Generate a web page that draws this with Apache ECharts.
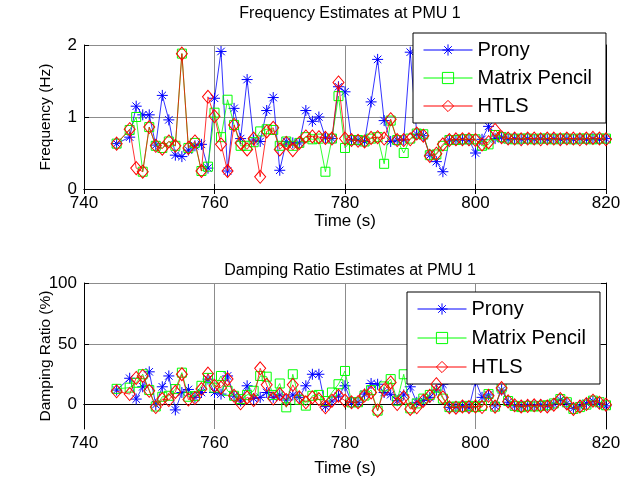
<!DOCTYPE html>
<html><head><meta charset="utf-8">
<script src="https://cdn.jsdelivr.net/npm/echarts@6/dist/echarts.min.js"></script>
<style>html,body{margin:0;padding:0;background:#fff}#c{width:624px;height:484px}</style>
</head><body><div id="c"></div>
<script>
const time = [745,747,748,749,750,751,752,753,754,755,756,757,758,759,760,761,762,763,764,765,766,767,768,769,770,771,772,773,774,775,776,777,778,779,780,781,782,783,784,785,786,787,788,789,790,791,792,793,794,795,796,797,798,799,800,801,802,803,804,805,806,807,808,809,810,811,812,813,814,815,816,817,818,819,820];

const freqProny = [0.63,0.72,1.15,1.03,1.03,0.61,1.30,0.96,0.47,0.45,0.54,0.60,0.62,0.29,1.26,1.91,0.25,1.12,0.70,1.52,0.68,0.66,1.09,1.27,0.26,0.66,0.64,0.64,1.09,0.94,1.00,0.71,0.70,1.42,1.35,0.68,0.68,0.66,1.21,1.80,0.95,0.66,0.68,0.68,1.90,0.76,0.74,0.47,0.38,0.24,0.68,0.68,0.69,0.68,0.50,0.69,0.87,0.70,0.72,0.69,0.70,0.69,0.70,0.69,0.70,0.69,0.70,0.69,0.70,0.69,0.70,0.69,0.70,0.69,0.70];
const freqMP    = [0.63,0.82,1.00,0.24,0.86,0.60,0.57,0.66,0.60,1.88,0.57,0.64,0.25,0.31,1.06,0.72,1.24,0.89,0.60,0.60,0.65,0.80,0.83,0.82,0.60,0.66,0.60,0.64,0.72,0.69,0.70,0.24,0.70,1.29,0.57,0.68,0.68,0.66,0.70,0.72,0.35,0.95,0.68,0.50,0.70,0.77,0.76,0.47,0.48,0.60,0.68,0.68,0.69,0.69,0.69,0.60,0.62,0.75,0.72,0.70,0.69,0.70,0.70,0.69,0.70,0.70,0.69,0.70,0.70,0.69,0.70,0.70,0.69,0.70,0.70];
const freqHTLS  = [0.63,0.83,0.29,0.24,0.86,0.60,0.56,0.66,0.60,1.88,0.57,0.66,0.25,1.28,1.01,0.62,0.25,0.89,0.64,0.55,0.70,0.17,0.80,0.85,0.55,0.64,0.54,0.64,0.73,0.73,0.72,0.71,0.70,1.48,0.70,0.68,0.67,0.66,0.71,0.72,0.70,0.97,0.68,0.68,0.69,0.77,0.74,0.46,0.49,0.62,0.68,0.69,0.69,0.69,0.68,0.62,0.65,0.82,0.72,0.70,0.70,0.69,0.70,0.70,0.69,0.70,0.70,0.69,0.70,0.70,0.69,0.70,0.71,0.70,0.69];

const dampProny = [12,21.7,4.6,14.7,27,0,14.7,23.6,-4.3,10,12.5,6,10,21,10,8.7,23.6,7,3,15.5,5,6,10,6,8,3.8,8,6,15.5,25,25,-1.6,3,7,15.5,1.9,2,8.7,17.4,16.8,10,8.2,3.3,8,14.7,1.9,3.5,6,12,16.8,-2.2,-2,-1,-2.5,19.6,6,8,-1,12,2,-1,-1.5,-0.5,-1,0,-1,0.5,4,1,-3,-1,1,3,1,-1];
const dampMP    = [13,14,18,25,12,-1.5,6.5,7.3,12.8,26.3,6.5,7,15.5,22,14,23.6,11.4,7.3,4.6,8,11.4,23.6,23,8,17.4,-2.2,25,4,-0.8,7.3,8,3,10,16.8,27.7,1.9,2,7.5,12,-4.9,15,21,3.3,25,-3,1,5,8,14,5,-2,-1.5,-2,-1,-2,-1,8.7,-1.6,14,3,-1,-2,-1,-1.5,-1,-0.5,1,4.6,2,-3.5,-2,0,3.3,2,-0.5];
const dampHTLS  = [11,8.7,22,23.6,11.4,-2,4.6,3.8,10.5,25,4.2,5.4,12.8,25.5,15.5,14,21,7.3,1.1,6,3.8,29.9,16.3,5,8.7,3.8,16.3,6,1.9,6,4.6,-2.2,3.3,7.3,3.3,1.9,2,7.5,10,-4.9,12,18.3,0.5,6,-3.5,-2.2,3.3,7.3,16.8,6,-2.2,-2.5,-1.5,-2,-1.5,-2,7.3,-1.6,13.6,2.7,-0.5,-1.5,-1,-0.5,-1,-1.5,0,4.6,1,-3.5,-1.5,0.5,3.3,1.5,0];

const names = ['Prony','Matrix Pencil','HTLS'];
const xTicks = [740,760,780,800,820];
const freqTicks = [0,1,2];
const dampTicks = [0,50,100];

const FONT = 'Liberation Sans, Arial, sans-serif';
const star = 'path://M5,0L5,10M0,5L10,5M1.6,1.6L8.4,8.4M1.6,8.4L8.4,1.6';
const styles = [
  {color:'#0000ff', symbol: star, size: 11},
  {color:'#00ff00', symbol: 'rect', size: 9},
  {color:'#ff0000', symbol: 'diamond', size: [11,13]}
];

function mk(name, vals, idx, gridIdx) {
  const s = styles[idx];
  return {
    name: name, type: 'line', xAxisIndex: gridIdx*2, yAxisIndex: gridIdx*2,
    data: time.map((t,i)=>[t, vals[i]]),
    symbol: s.symbol, symbolSize: s.size, showAllSymbol: true,
    lineStyle: {color: s.color, width: 0.8},
    itemStyle: {color: 'rgba(0,0,0,0)', borderColor: s.color, borderWidth: 1},
    emphasis: {disabled: true}, z: 2 + idx
  };
}

const axisLineStyle = {show: true, lineStyle: {color: '#000', width: 1}};
function xMain(grid, gap) {
  return {type:'value', gridIndex: grid, min: 740, max: 820, interval: 20, position:'bottom',
    axisLine: axisLineStyle, axisTick: {show:true, inside:true, length:5, lineStyle:{color:'#000'}},
    axisLabel: {fontSize: 17, color:'#000', fontFamily: FONT, margin: 6},
    splitLine: {show:true, lineStyle:{color:'#8c8c8c', width:1}},
    name: 'Time (s)', nameLocation:'middle', nameGap: gap, nameMoveOverlap: false,
    nameTextStyle: {fontSize: 17, color:'#000', fontFamily: FONT}};
}
function xMirror(grid) {
  return {type:'value', gridIndex: grid, min: 740, max: 820, interval: 20, position:'top',
    axisLine: axisLineStyle, axisTick: {show:true, inside:true, length:5, lineStyle:{color:'#000'}},
    axisLabel: {show:false}, splitLine: {show:false}};
}
function legendAt(left, top, gap) {
  return {data: names, orient: 'vertical', left: left, top: top, itemWidth: 49, itemHeight: 14, itemGap: gap,
     padding: [7, 14, 7, 10], backgroundColor: '#fff', borderColor: '#000', borderWidth: 1, borderRadius: 0,
     lineStyle: {width: 1}, itemStyle: {borderWidth: 1},
     textStyle: {fontSize: 20, color:'#000', fontFamily: FONT}, selectedMode: false};
}

const option = {
  animation: false,
  backgroundColor: '#fff',
  title: [
    {text: 'Frequency Estimates at PMU 1', left: 345, top: 1, textAlign: 'center',
     textStyle: {fontSize: 16, fontWeight: 'normal', color: '#000', fontFamily: FONT}},
    {text: 'Damping Ratio Estimates at PMU 1', left: 345, top: 258, textAlign: 'center',
     textStyle: {fontSize: 16, fontWeight: 'normal', color: '#000', fontFamily: FONT}}
  ],
  legend: [legendAt(413, 33, 8), legendAt(407, 292, 9)],
  grid: [
    {left: 84, top: 45, width: 522, height: 144},
    {left: 84, top: 283, width: 522, height: 146}
  ],
  xAxis: [xMain(0, 24), xMirror(0), xMain(1, 31), xMirror(1)],
  yAxis: [
    {type:'value', gridIndex:0, min:0, max:2, interval:1, position:'left',
     axisLine: axisLineStyle, axisTick:{show:true, inside:true, length:5, lineStyle:{color:'#000'}},
     axisLabel:{fontSize:17, color:'#000', fontFamily: FONT, margin: 7},
     splitLine:{show:true, lineStyle:{color:'#8c8c8c', width:1}},
     name:'Frequency (Hz)', nameLocation:'middle', nameGap: 30, nameMoveOverlap: false,
     nameTextStyle:{fontSize:15.5, color:'#000', fontFamily: FONT}},
    {type:'value', gridIndex:0, min:0, max:2, interval:1, position:'right',
     axisLine: axisLineStyle, axisTick:{show:true, inside:true, length:5, lineStyle:{color:'#000'}},
     axisLabel:{show:false}, splitLine:{show:false}},
    {type:'value', gridIndex:1, min:-20, max:100, position:'left',
     axisLine: axisLineStyle, axisTick:{show:true, inside:true, length:5, lineStyle:{color:'#000'}, customValues: dampTicks},
     axisLabel:{fontSize:17, color:'#000', fontFamily: FONT, margin: 7, customValues: dampTicks},
     splitLine:{show:true, lineStyle:{color:'#8c8c8c', width:1}},
     name:'Damping Ratio (%)', nameLocation:'middle', nameGap: 30, nameMoveOverlap: false,
     nameTextStyle:{fontSize:15.5, color:'#000', fontFamily: FONT}},
    {type:'value', gridIndex:1, min:-20, max:100, position:'right',
     axisLine: axisLineStyle, axisTick:{show:true, inside:true, length:5, lineStyle:{color:'#000'}, customValues: dampTicks},
     axisLabel:{show:false}, splitLine:{show:false}}
  ],
  series: [
    mk('Prony', freqProny, 0, 0), mk('Matrix Pencil', freqMP, 1, 0), mk('HTLS', freqHTLS, 2, 0),
    mk('Prony', dampProny, 0, 1), mk('Matrix Pencil', dampMP, 1, 1), mk('HTLS', dampHTLS, 2, 1)
  ]
};
const chart = echarts.init(document.getElementById('c'), null, {renderer: 'canvas'});
chart.setOption(option);
</script></body></html>
